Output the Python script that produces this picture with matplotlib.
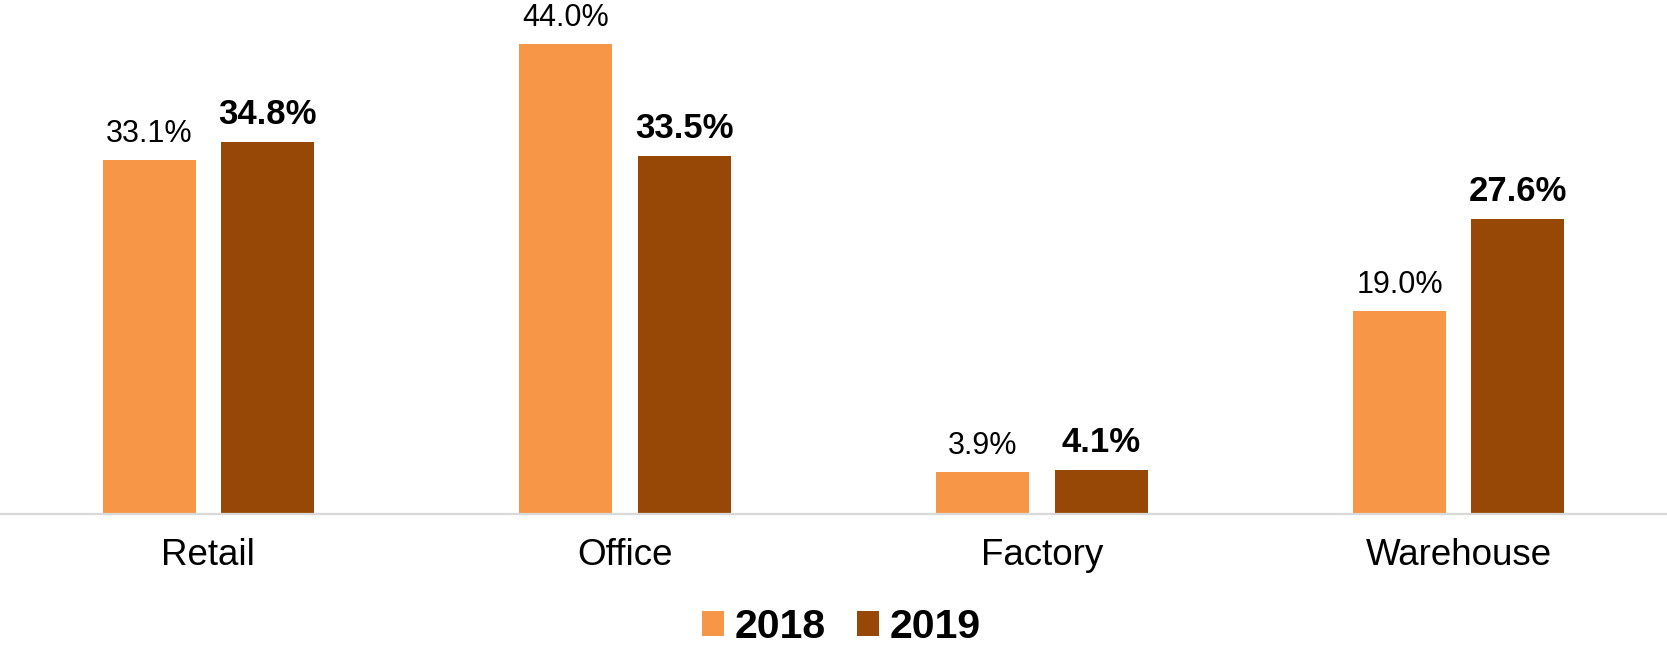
import matplotlib
matplotlib.use("Agg")
import matplotlib.pyplot as plt
import numpy as np
from matplotlib.patches import Patch

plt.rcParams['font.family'] = ['Liberation Sans', 'DejaVu Sans']

categories = ["Retail", "Office", "Factory", "Warehouse"]
series_names = ["2018", "2019"]
values_2018 = [33.1, 44.0, 3.9, 19.0]
values_2019 = [34.8, 33.5, 4.1, 27.6]
colors = ["#F79646", "#974706"]

W, H, DPI = 1667, 649, 100
fig = plt.figure(figsize=(W / DPI, H / DPI), dpi=DPI)
base_px = 514
ax = fig.add_axes([0, 1 - base_px / H, 1, base_px / H])

x = np.arange(len(categories))
bw = 0.223
off = 0.142
b1 = ax.bar(x - off, values_2018, bw, color=colors[0], label=series_names[0])
b2 = ax.bar(x + off, values_2019, bw, color=colors[1], label=series_names[1])

for xi, v in zip(x - off, values_2018):
    ax.annotate(f"{v:.1f}%", (xi, v), xytext=(0, 13), textcoords="offset points",
                ha="center", va="baseline", fontsize=22, color="black")
for xi, v in zip(x + off, values_2019):
    ax.annotate(f"{v:.1f}%", (xi, v), xytext=(0, 13), textcoords="offset points",
                ha="center", va="baseline", fontsize=25, fontweight="bold", color="black")

ax.set_xlim(-0.5, 3.5)
ax.set_ylim(0, base_px / 10.69)
ax.set_xticks(x)
ax.set_xticklabels(categories, fontsize=26.5)
ax.tick_params(axis="x", length=0, pad=17.5)
ax.set_yticks([])
for s in ["top", "right", "left"]:
    ax.spines[s].set_visible(False)
ax.spines["bottom"].set_color("#D9D9D9")
ax.spines["bottom"].set_linewidth(1.6)

handles = [Patch(facecolor=colors[0], label=series_names[0]),
           Patch(facecolor=colors[1], label=series_names[1])]
fig.legend(handles=handles, loc="center", bbox_to_anchor=(841.5 / W, 1 - 627 / H),
           ncol=2, frameon=False, prop={"size": 29.5, "weight": "bold"},
           handlelength=0.54, handleheight=0.54, handletextpad=0.27,
           columnspacing=0.75, borderpad=0, borderaxespad=0)

fig.savefig("out.png", dpi=DPI)
